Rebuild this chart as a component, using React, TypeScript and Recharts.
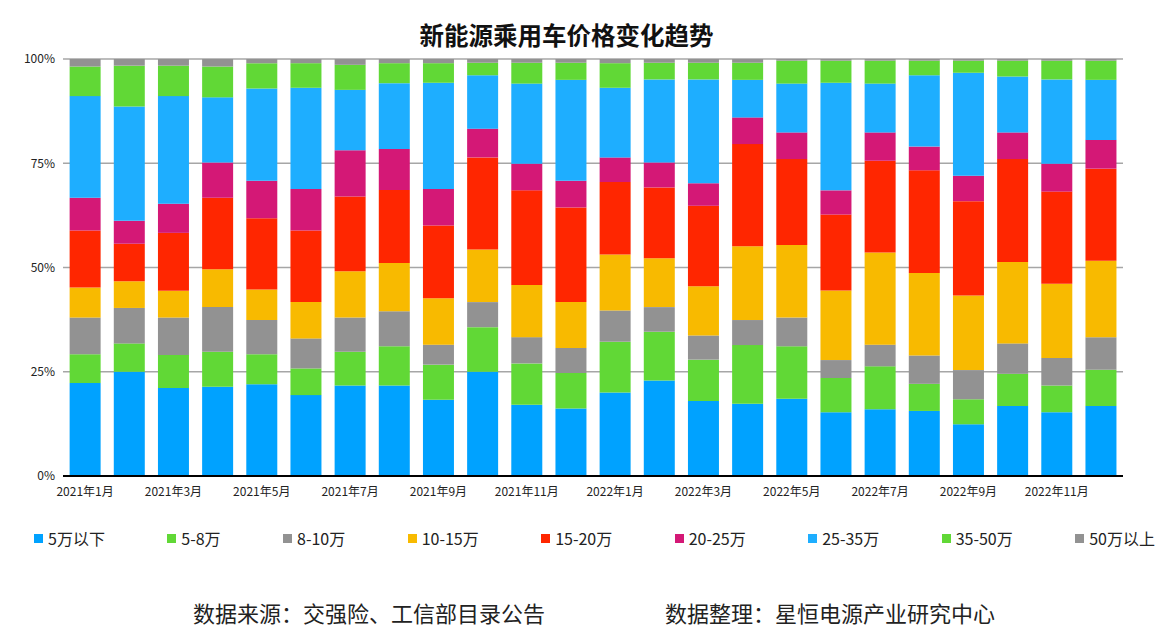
import { BarChart, Bar, XAxis, YAxis, CartesianGrid } from 'recharts'

const months = [
    '2021年1月', '2021年2月', '2021年3月', '2021年4月', '2021年5月', '2021年6月',
    '2021年7月', '2021年8月', '2021年9月', '2021年10月', '2021年11月', '2021年12月',
    '2022年1月', '2022年2月', '2022年3月', '2022年4月', '2022年5月', '2022年6月',
    '2022年7月', '2022年8月', '2022年9月', '2022年10月', '2022年11月', '2022年12月',
]

const seriesNames = ['5万以下', '5-8万', '8-10万', '10-15万', '15-20万', '20-25万', '25-35万', '35-50万', '50万以上']
const seriesColors = ['#00A2FF', '#61D836', '#929292', '#F8BA00', '#FF2600', '#D41876', '#1EAEFF', '#61D836', '#929292']

// share of each price band, % per month
const under5 = [22.3, 25.0, 21.1, 21.4, 22.0, 19.4, 21.7, 21.7, 18.3, 25.0, 17.1, 16.2, 20.0, 22.9, 18.0, 17.3, 18.5, 15.3, 16.0, 15.6, 12.4, 16.8, 15.3, 16.8]
const p5to8 = [6.9, 6.8, 7.9, 8.4, 7.2, 6.4, 8.1, 9.4, 8.4, 10.7, 9.9, 8.5, 12.2, 11.7, 9.9, 14.1, 12.6, 8.2, 10.3, 6.5, 6.0, 7.7, 6.4, 8.7]
const p8to10 = [8.8, 8.5, 9.0, 10.7, 8.2, 7.2, 8.2, 8.4, 4.8, 6.0, 6.3, 6.0, 7.5, 5.9, 5.8, 6.0, 6.9, 4.3, 5.2, 6.8, 7.0, 7.3, 6.6, 7.8]
const p10to15 = [7.2, 6.4, 6.4, 9.1, 7.3, 8.7, 11.1, 11.6, 11.1, 12.6, 12.5, 11.0, 13.4, 11.7, 11.8, 17.7, 17.4, 16.7, 22.1, 19.8, 17.9, 19.5, 17.8, 18.3]
const p15to20 = [13.7, 9.0, 13.9, 17.1, 17.1, 17.2, 17.9, 17.5, 17.5, 22.1, 22.7, 22.7, 17.4, 17.0, 19.3, 24.5, 20.6, 18.2, 22.0, 24.6, 22.6, 24.7, 22.1, 22.1]
const p20to25 = [7.8, 5.5, 7.0, 8.5, 9.0, 9.9, 11.1, 9.8, 8.7, 6.9, 6.4, 6.4, 5.9, 6.0, 5.4, 6.4, 6.4, 5.8, 6.8, 5.7, 6.1, 6.4, 6.7, 6.9]
const p25to35 = [24.4, 27.4, 25.8, 15.6, 22.1, 24.3, 14.5, 15.8, 25.5, 12.8, 19.2, 24.2, 16.7, 19.9, 24.9, 9.0, 11.7, 25.8, 11.7, 17.1, 24.7, 13.4, 20.2, 14.4]
const p35to50 = [7.1, 9.8, 7.3, 7.4, 6.1, 5.9, 6.0, 4.8, 4.7, 3.0, 5.0, 4.1, 5.9, 4.0, 4.0, 4.1, 5.5, 5.3, 5.5, 3.5, 2.9, 3.8, 4.5, 4.6]
const over50 = [1.8, 1.6, 1.6, 1.8, 1.0, 1.0, 1.4, 1.0, 1.0, 0.9, 0.9, 0.9, 1.0, 0.9, 0.9, 0.9, 0.4, 0.4, 0.4, 0.4, 0.4, 0.4, 0.4, 0.4]

const yTicks = [0, 0.25, 0.5, 0.75, 1]

const seriesValues = [under5, p5to8, p8to10, p10to15, p15to20, p20to25, p25to35, p35to50, over50]

const data = months.map((m, i) => {
    const row: Record<string, string | number> = { month: m }
    seriesValues.forEach((vals, k) => { row[`s${k}`] = vals[i] })
    return row
})

const font = '"Noto Sans CJK SC", "Noto Sans", sans-serif'

const App = () => {
    return (
        <div style={{ position: 'relative', width: 1171, height: 638, background: '#fff', fontFamily: font }}>
            <style>{`body { margin: 0; }`}</style>
            <div style={{ position: 'absolute', top: 17, left: 0, width: 1133, textAlign: 'center', fontSize: 24.5, fontWeight: 'bold', color: '#111' }}>
                新能源乘用车价格变化趋势
            </div>
            <BarChart
                width={1171}
                height={638}
                data={data}
                stackOffset="expand"
                barCategoryGap="15%"
                margin={{ top: 59, right: 48, left: 0, bottom: 132 }}
            >
                <CartesianGrid vertical={false} stroke="#A6A6A6" strokeWidth={1.5} />
                <XAxis
                    dataKey="month"
                    interval={1}
                    height={30}
                    tickLine={false}
                    axisLine={{ stroke: '#000', strokeWidth: 2 }}
                    tick={{ fontSize: 12, fill: '#222', fontFamily: font }}
                    tickMargin={5}
                />
                <YAxis
                    width={63}
                    domain={[0, 1]}
                    ticks={yTicks}
                    tickLine={false}
                    axisLine={false}
                    tick={{ fontSize: 12, fill: '#222', fontFamily: font }}
                    tickMargin={2}
                    tickFormatter={(v) => `${Math.round(v * 100)}%`}
                />
                {seriesNames.map((name, k) => (
                    <Bar
                        key={name}
                        dataKey={`s${k}`}
                        name={name}
                        stackId="a"
                        fill={seriesColors[k]}
                        isAnimationActive={false}
                    />
                ))}
            </BarChart>
            <div style={{ position: 'absolute', top: 526, left: 34, right: 16, display: 'flex', justifyContent: 'space-between', fontSize: 16, color: '#222' }}>
                {seriesNames.map((name, k) => (
                    <div key={name} style={{ display: 'flex', alignItems: 'center' }}>
                        <span style={{ width: 9, height: 9, background: seriesColors[k], marginRight: 5, display: 'inline-block' }} />
                        {name}
                    </div>
                ))}
            </div>
            <div style={{ position: 'absolute', top: 596, left: 193, fontSize: 22, color: '#222' }}>数据来源：交强险、工信部目录公告</div>
            <div style={{ position: 'absolute', top: 596, left: 665, fontSize: 22, color: '#222' }}>数据整理：星恒电源产业研究中心</div>
        </div>
    )
}

export default App
